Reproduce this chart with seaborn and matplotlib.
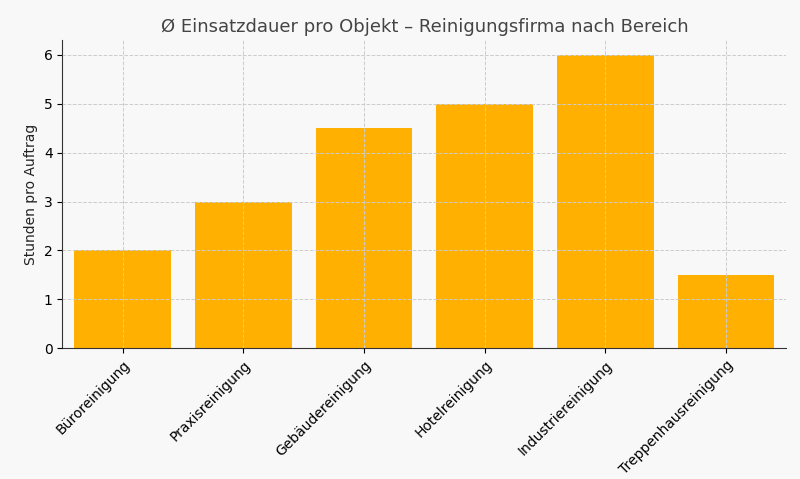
import matplotlib
matplotlib.use("Agg")
import matplotlib.pyplot as plt
import seaborn as sns
import pandas as pd

categories = ["Büroreinigung", "Praxisreinigung", "Gebäudereinigung",
              "Hotelreinigung", "Industriereinigung", "Treppenhausreinigung"]
hours = [2, 3, 4.5, 5, 6, 1.5]

df = pd.DataFrame({"Bereich": categories, "Stunden": hours})

bg = "#f8f8f8"
fig, ax = plt.subplots(figsize=(8, 4.79), dpi=100)
fig.patch.set_facecolor(bg)
ax.set_facecolor(bg)

sns.barplot(data=df, x="Bereich", y="Stunden", color="#ffb000",
            saturation=1, width=0.8, ax=ax)

ax.set_axisbelow(False)
ax.grid(True, linestyle="--", color="#cccccc", linewidth=0.7)
for s in ["top", "right"]:
    ax.spines[s].set_visible(False)
ax.spines["left"].set_color("#333333")
ax.spines["bottom"].set_color("#333333")
ax.set_ylim(0, 6.3)
ax.set_xlim(-0.5, 5.5)
ax.set_xlabel("")
ax.set_ylabel("Stunden pro Auftrag", fontsize=10, color="#222222")
ax.set_title("Ø Einsatzdauer pro Objekt – Reinigungsfirma nach Bereich",
             fontsize=13, color="#444444")
plt.setp(ax.get_xticklabels(), rotation=45, ha="right", rotation_mode="anchor")
ax.tick_params(labelsize=10)

plt.subplots_adjust(left=0.078, right=0.983, top=0.916, bottom=0.273)
plt.savefig("out.png", dpi=100, facecolor=bg)
